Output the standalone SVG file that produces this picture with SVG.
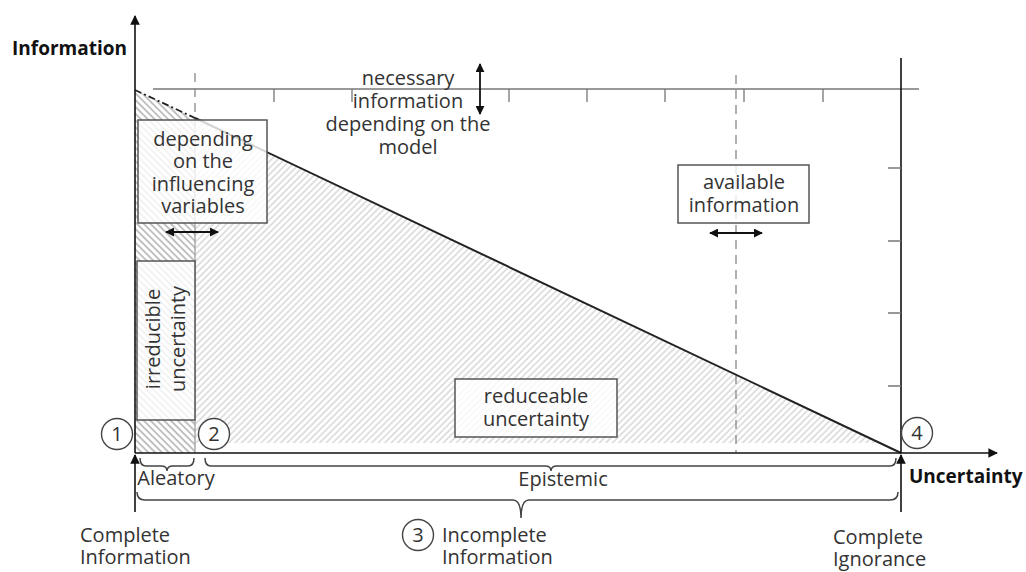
<svg xmlns="http://www.w3.org/2000/svg" width="1026" height="572" viewBox="0 0 1026 572">
<style>
text{font-family:"Open Sans","Noto Sans","Liberation Sans",sans-serif;fill:#333;font-size:20px}
.b{font-weight:bold;fill:#111;font-size:19px}
.m{text-anchor:middle}
.box{fill:#fff;fill-opacity:0.8;stroke:#555;stroke-width:1.5}
.ax{stroke:#111;stroke-width:1.6;fill:none}
.thin{stroke:#777;stroke-width:1.3;fill:none}
.dash{stroke:#888;stroke-width:1.3;stroke-dasharray:9 6;fill:none}
.brace{stroke:#444;stroke-width:1.5;fill:none}
.dbl{stroke:#111;stroke-width:1.8;fill:none;marker-start:url(#ah);marker-end:url(#ah)}
.circ{fill:#fff;stroke:#444;stroke-width:1.4}
</style>
<defs>
<marker id="ah" viewBox="0 0 10 10" refX="9" refY="5" markerWidth="5" markerHeight="5" orient="auto-start-reverse" markerUnits="strokeWidth"><path d="M0,0 L10,5 L0,10 z" fill="#111"/></marker>
<marker id="ax" viewBox="0 0 10 10" refX="9" refY="5" markerWidth="6" markerHeight="6" orient="auto" markerUnits="strokeWidth"><path d="M0,0 L10,5 L0,10 z" fill="#111"/></marker>
<pattern id="hR" width="4.6" height="4.6" patternUnits="userSpaceOnUse" patternTransform="rotate(45)"><line x1="1" y1="0" x2="1" y2="4.6" stroke="#cdcdcd" stroke-width="1.2"/></pattern>
<pattern id="hL" width="4.8" height="4.8" patternUnits="userSpaceOnUse" patternTransform="rotate(-45)"><line x1="1" y1="0" x2="1" y2="4.8" stroke="#9a9a9a" stroke-width="1.2"/></pattern>
</defs>

<g id="areas">
<polygon points="195,118 880,443 195,443" fill="url(#hR)"/>
<polygon points="135,90 195,118 195,453 135,453" fill="url(#hL)"/>
<line x1="195" y1="118" x2="195" y2="453" stroke="#999" stroke-width="1.2"/>
</g>

<g id="grid">
<line class="thin" x1="153" y1="89" x2="919" y2="89"/>
<path class="thin" d="M274,89v13M352,89v13M509,89v13M587,89v13M665,89v13M744,89v13M823,89v13"/>
<line class="ax" x1="901" y1="58" x2="901" y2="453"/>
<path class="thin" d="M888,168h13M888,241h13M888,313h13M888,386h13"/>
<line class="dash" x1="195" y1="73" x2="195" y2="118"/>
<line class="dash" x1="736" y1="75" x2="736" y2="453"/>
</g>

<g id="connectors">
<line x1="135" y1="90" x2="195" y2="118" stroke="#222" stroke-width="1.8" stroke-dasharray="7 3 2 3"/>
<line x1="195" y1="118" x2="901" y2="453" stroke="#222" stroke-width="2"/>
<line class="ax" x1="135" y1="453" x2="135" y2="16" marker-end="url(#ax)"/>
<line class="ax" x1="135" y1="453" x2="997" y2="453" marker-end="url(#ax)"/>
<line class="ax" x1="135" y1="512" x2="135" y2="455" marker-end="url(#ax)"/>
<line class="ax" x1="901" y1="512" x2="901" y2="455" marker-end="url(#ax)"/>
<line class="dbl" x1="166" y1="232" x2="218" y2="232"/>
<line class="dbl" x1="710" y1="233" x2="762" y2="233"/>
<line class="dbl" x1="480" y1="64" x2="480" y2="114"/>
<path class="brace" d="M140,458 Q140,466 146,466 L161,466 Q167,466 167,471 Q167,466 173,466 L188,466 Q194,466 194,458"/>
<path class="brace" d="M205,458 Q205,466 211,466 L545,466 Q551,466 551,471 Q551,466 557,466 L890,466 Q896,466 896,458"/>
<path class="brace" stroke="#777" d="M137,492 Q137,500 145,500 L513,500 Q521,500 521,518 Q521,500 529,500 L890,500 Q898,500 898,492"/>
</g>

<g id="node-depending">
<rect class="box" x="138" y="120" width="129" height="103"/>
<text class="m" x="203" y="146">depending</text>
<text class="m" x="203" y="168">on the</text>
<text class="m" x="203" y="191">influencing</text>
<text class="m" x="203" y="213">variables</text>
</g>

<g id="node-irreducible">
<rect class="box" x="137" y="261" width="58" height="159"/>
<text class="m" transform="translate(160,339) rotate(-90)">irreducible</text>
<text class="m" transform="translate(185,339) rotate(-90)">uncertainty</text>
</g>

<g id="node-necessary">
<text class="m" x="408" y="85">necessary</text>
<text class="m" x="408" y="108">information</text>
<text class="m" x="408" y="131">depending on the</text>
<text class="m" x="408" y="154">model</text>
</g>

<g id="node-available">
<rect class="box" x="678" y="165" width="131" height="58"/>
<text class="m" x="744" y="189">available</text>
<text class="m" x="744" y="212">information</text>
</g>

<g id="node-reduceable">
<rect class="box" x="455" y="379" width="162" height="58"/>
<text class="m" x="536" y="403">reduceable</text>
<text class="m" x="536" y="426">uncertainty</text>
</g>

<g id="markers">
<circle class="circ" cx="117" cy="434" r="15.5"/>
<text class="m" x="117" y="441">1</text>
<circle class="circ" cx="214" cy="434" r="15.5"/>
<text class="m" x="214" y="441">2</text>
<circle class="circ" cx="917" cy="433" r="15.5"/>
<text class="m" x="917" y="440">4</text>
<circle class="circ" cx="418" cy="535" r="15.5"/>
<text class="m" x="418" y="542">3</text>
</g>

<g id="labels">
<text class="b" x="12" y="55">Information</text>
<text class="b" x="909" y="483">Uncertainty</text>
<text class="m" x="176" y="485">Aleatory</text>
<text class="m" x="563" y="486">Epistemic</text>
<text x="80" y="542">Complete</text>
<text x="80" y="564">Information</text>
<text x="442" y="542">Incomplete</text>
<text x="442" y="564">Information</text>
<text x="833" y="544">Complete</text>
<text x="833" y="566">Ignorance</text>
</g>
</svg>
